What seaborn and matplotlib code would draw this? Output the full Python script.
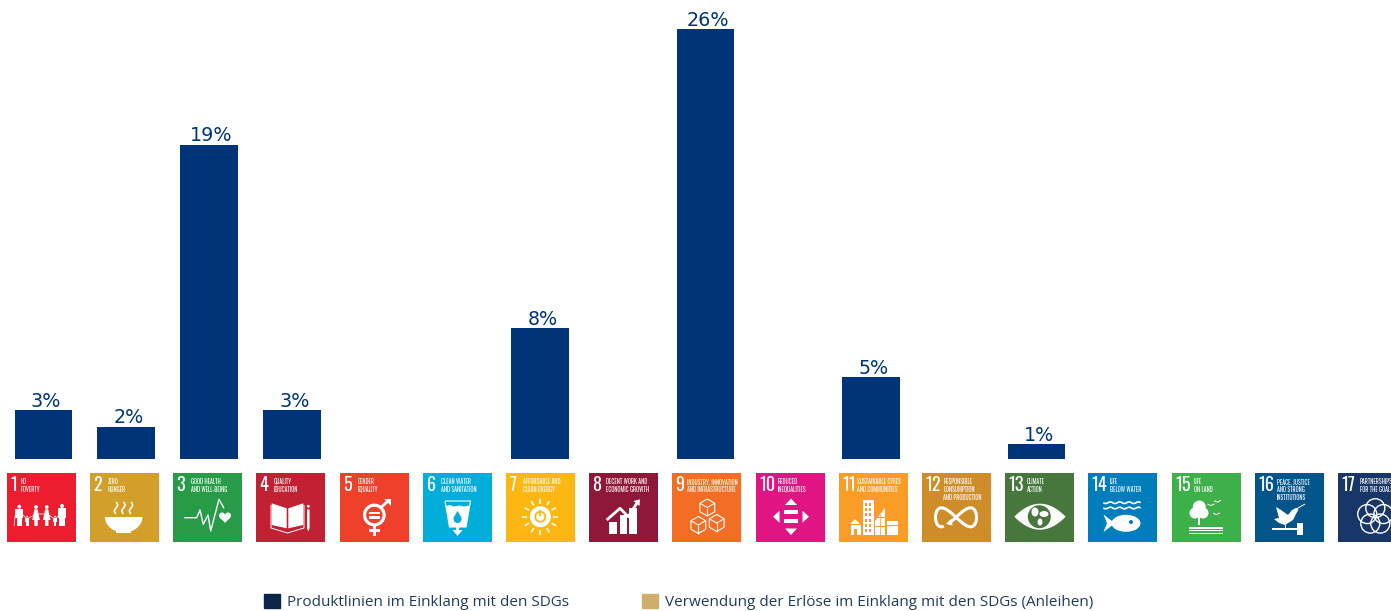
import numpy as np
import pandas as pd
import seaborn as sns
import matplotlib.pyplot as plt
from matplotlib import font_manager as fm
from matplotlib.patches import Patch, Polygon, Circle, Rectangle, Ellipse
from matplotlib.transforms import Affine2D

# Chart data
goals = list(range(1, 18))
shares = [2.96, 1.94, 19.0, 2.96, 0, 0, 7.92, 0, 26.0, 0, 4.96, 0, 0.91, 0, 0, 0, 0]
legend_labels = ['Produktlinien im Einklang mit den SDGs',
                 'Verwendung der Erlöse im Einklang mit den SDGs (Anleihen)']
tile_titles = ['NO\nPOVERTY', 'ZERO\nHUNGER', 'GOOD HEALTH\nAND WELL-BEING', 'QUALITY\nEDUCATION',
               'GENDER\nEQUALITY', 'CLEAN WATER\nAND SANITATION', 'AFFORDABLE AND\nCLEAN ENERGY',
               'DECENT WORK AND\nECONOMIC GROWTH', 'INDUSTRY, INNOVATION\nAND INFRASTRUCTURE',
               'REDUCED\nINEQUALITIES', 'SUSTAINABLE CITIES\nAND COMMUNITIES',
               'RESPONSIBLE\nCONSUMPTION\nAND PRODUCTION', 'CLIMATE\nACTION', 'LIFE\nBELOW WATER',
               'LIFE\nON LAND', 'PEACE, JUSTICE\nAND STRONG\nINSTITUTIONS', 'PARTNERSHIPS\nFOR THE GOALS']
tile_colors = ['#ED1C2E', '#D19F2A', '#279B48', '#C22033', '#EF402B', '#00AED9', '#FDB713', '#8F1838',
               '#F36E24', '#E01483', '#F99D26', '#CF8D2A', '#48773E', '#007DBB', '#3EB049', '#02558B', '#183668']
title_offsets = [13.7, 17.7, 17.7, 18, 17.7, 17.7, 16.7, 16.7, 14.7, 21.7, 18, 21.3, 21.7, 21.7, 21.7, 21.7, 21.7]

BAR_COLOR = '#003478'
W, H = 1391, 611
BAR_STEP = 82.75   # px between bars
PX_PER_PCT = 16.54
BASE_Y = 459

sns.set_theme(style='white')
plt.rcParams['font.family'] = ['Open Sans', 'DejaVu Sans']

df = pd.DataFrame({'goal': goals, 'share': shares})

fig = plt.figure(figsize=(W / 100, H / 100), dpi=100)
ax = fig.add_axes([0, 0, 1, 1])
sns.barplot(data=df, x='goal', y='share', order=goals, color=BAR_COLOR, saturation=1, width=0.695,
            linewidth=0, edgecolor='none', ax=ax)
ax.set_xlim(-43.5 / BAR_STEP, (W - 43.5) / BAR_STEP)
ax.set_ylim(-(H - BASE_Y) / PX_PER_PCT, BASE_Y / PX_PER_PCT)
ax.axis('off')

# Value labels above the bars, empty for goals without a share
bar_text = [f'{v:.0f}%' if v > 0 else '' for v in shares]
value_labels = ax.bar_label(ax.containers[0], labels=bar_text, padding=-0.4, color=BAR_COLOR, fontsize=13.8,
                            family='DejaVu Sans')
for t in value_labels:
    t.xyann = (1.8, t.xyann[1])

ax.legend(handles=[Patch(color='#0A2547'), Patch(color='#CFAE6B')], labels=legend_labels, ncol=2, frameon=False,
          loc='lower left', bbox_to_anchor=(264 / W, 0.002), fontsize=10.97, labelcolor='#1F3B5C',
          handlelength=1.05, handleheight=1.05, handletextpad=0.46, columnspacing=4.8, borderpad=0, borderaxespad=0)

# Pixel coordinate layer for the SDG tiles
lay = fig.add_axes([0, 0, 1, 1], facecolor='none')
lay.set_xlim(0, W)
lay.set_ylim(H, 0)
lay.axis('off')

W_ = 'white'


class Icon:
    # draws in coordinates local to one tile (0-69, y down)
    def __init__(self, x0, y0, bg):
        self.tr = Affine2D().translate(x0, y0) + lay.transData
        self.bg = bg

    def poly(self, pts, color=W_):
        lay.add_patch(Polygon(pts, closed=True, fc=color, ec='none', transform=self.tr))

    def rect(self, x, y, w, h, color=W_):
        lay.add_patch(Rectangle((x, y), w, h, fc=color, ec='none', transform=self.tr))

    def circ(self, x, y, r, color=W_):
        lay.add_patch(Circle((x, y), r, fc=color, ec='none', transform=self.tr))

    def ring(self, x, y, r, lw=1.5, color=W_):
        lay.add_patch(Circle((x, y), r, fc='none', ec=color, lw=lw, transform=self.tr))

    def line(self, xs, ys, lw=1.2, color=W_):
        lay.plot(xs, ys, color=color, lw=lw, transform=self.tr, solid_capstyle='butt')


def person(ic, x, head_y, bottom, dress=False):
    r = (bottom - head_y) * 0.1
    ic.circ(x, head_y, r)
    top = head_y + r + 0.4
    if dress:
        ic.poly([(x - 1.5, top), (x + 1.5, top), (x + 3.8, bottom - 6), (x + 1.7, bottom - 6), (x + 1.7, bottom),
                 (x - 1.7, bottom), (x - 1.7, bottom - 6), (x - 3.8, bottom - 6)])
    else:
        ic.rect(x - 2.1 * r, top, 4.2 * r, (bottom - top) * 0.55)
        ic.rect(x - 1.3 * r, top, 2.6 * r, bottom - top)


def icon1(ic):
    ic.line([8.5, 7], [40, 53], lw=0.5)
    person(ic, 12.3, 33.7, 53)
    person(ic, 20.3, 43.7, 53)
    person(ic, 29, 34, 53, dress=True)
    person(ic, 39.7, 34, 53, dress=True)
    person(ic, 48, 43.7, 53)
    person(ic, 55, 33, 53)
    ic.line([15, 20, 29, 40, 48, 53], [41, 46, 41, 41, 46, 41], lw=0.5)


def icon2(ic):
    t = np.linspace(0, np.pi, 40)
    ic.poly(np.column_stack([33.7 + 18.7 * np.cos(t), 44 + 15.5 * np.sin(t)]))
    ic.rect(26, 57, 15, 3.4)
    yy = np.linspace(29, 41, 30)
    for x in [26, 33.5, 41]:
        ic.line(x + 1.6 * np.sin((yy - 29) / 12 * 2 * np.pi), yy, lw=1.1)


def icon3(ic):
    ic.line([11.3, 23.7, 27, 30.3, 35, 37.7, 46, 51], [44.7, 44.7, 37, 51.3, 42, 58, 26.3, 35.3], lw=1)
    t = np.linspace(0, 2 * np.pi, 60)
    ic.poly(np.column_stack([52 + 0.38 * 16 * np.sin(t) ** 3,
                             44 - 0.38 * (13 * np.cos(t) - 5 * np.cos(2 * t) - 2 * np.cos(3 * t) - np.cos(4 * t))]))


def icon4(ic):
    ic.poly([(15.7, 30.3), (30.7, 35.3), (30.7, 55.3), (15.7, 52)])
    ic.poly([(32.3, 35.3), (47.3, 30.3), (47.3, 52), (32.3, 55.3)])
    ic.line([15, 15, 31.5, 48, 48], [32, 55, 60, 55, 32], lw=0.7)
    ic.circ(52.3, 33.3, 1.4)
    ic.poly([(51, 36.5), (53.6, 36.5), (53.6, 55), (52.3, 58.5), (51, 55)])


def icon5(ic):
    ic.ring(34.3, 42, 9.8, lw=2.3)
    ic.rect(28.5, 38.5, 11.6, 2.5)
    ic.rect(28.5, 43, 11.6, 2.5)
    ic.line([41, 49], [34.5, 27], lw=2)
    ic.poly([(43.5, 26), (50.7, 26), (50.7, 33.2)])
    ic.rect(33, 52, 2.6, 11)
    ic.rect(29, 56, 10.6, 2.6)


def icon6(ic):
    ic.line([22, 26.5, 43, 47.5, 22], [28, 54, 54, 28, 28], lw=0.8)
    ic.poly([(23, 33), (27, 32), (31, 33.5), (36, 32.5), (41, 33.5), (46.5, 32.5), (43, 54), (26.5, 54)])
    ic.circ(34.5, 46, 4, ic.bg)
    ic.poly([(34.5, 38), (31, 44), (38, 44)], ic.bg)
    ic.rect(33.2, 54, 2.6, 4)
    ic.poly([(29.5, 57), (39.5, 57), (34.5, 63)])


def icon7(ic):
    cx, cy = 34.3, 43.7
    for a in np.arange(0, 360, 30) + 0:
        c, s = np.cos(np.radians(a)), np.sin(np.radians(a))
        ic.line([cx + 13 * c, cx + 18 * c], [cy + 13 * s, cy + 18 * s], lw=1.1)
    ic.circ(cx, cy, 10.5)
    ic.ring(cx, cy, 5, lw=1.3, color=ic.bg)
    ic.line([cx, cx], [cy - 6.5, cy - 1], lw=1.3, color=ic.bg)


def icon8(ic):
    ic.rect(20, 48.7, 8.3, 12.3)
    ic.rect(31, 42, 7.3, 19)
    ic.rect(40.3, 35.3, 8, 25.7)
    ic.line([17.7, 31, 39.3, 48], [47, 35.3, 43.7, 30], lw=2)
    ic.poly([(44.5, 28), (51, 26.3), (50.5, 33)])


def cube(ic, x, y, s):
    dx, dy = s * 0.87, s * 0.5
    ic.line([x, x + dx, x + dx, x, x - dx, x - dx, x], [y - s, y - dy, y + dy, y + s, y + dy, y - dy, y - s], lw=0.8)
    ic.line([x - dx, x, x + dx], [y - dy, y, y - dy], lw=0.8)
    ic.line([x, x], [y, y + s], lw=0.8)


def icon9(ic):
    cube(ic, 35.3, 34.5, 8.5)
    cube(ic, 26.3, 52, 8.5)
    cube(ic, 44.7, 50, 8.5)


def icon10(ic):
    cx, cy = 35, 43.7
    ic.poly([(cx - 6, 32), (cx + 6, 32), (cx, 25.5)])
    ic.poly([(cx - 6, 55.5), (cx + 6, 55.5), (cx, 62)])
    ic.poly([(23.5, cy - 6), (23.5, cy + 6), (17, cy)])
    ic.poly([(46.5, cy - 6), (46.5, cy + 6), (53, cy)])
    ic.rect(cx - 7, 37, 14, 3.6)
    ic.rect(cx - 7, 46, 14, 3.6)


def icon11(ic):
    ic.poly([(11, 51), (16, 46), (21, 51)])
    ic.rect(11.5, 52, 10, 10)
    ic.rect(15, 56, 3, 6, ic.bg)
    ic.rect(24.3, 27, 10.5, 35)
    ic.poly([(36, 62), (36, 48), (46, 34.7), (46, 62)])
    ic.rect(47.7, 48, 11, 14)
    for i in range(6):
        for j in range(2):
            ic.rect(26 + j * 4, 30 + i * 5.2, 2.4, 3, ic.bg)
    for i in range(4):
        ic.rect(36, 44 + i * 4.5, 10, 0.7, ic.bg)
    ic.line([41, 41], [41, 62], lw=0.5, color=ic.bg)
    for i in range(2):
        ic.rect(47.7, 52 + i * 4.5, 11, 0.7, ic.bg)


def icon12(ic):
    t = np.linspace(2.2, 1.87 + 2 * np.pi - 0.05, 120)
    ic.line(34 + 20.5 * np.cos(t), 44.3 - 19 * np.sin(t) * np.cos(t), lw=2.2)
    ic.poly([(29.5, 45.5), (30.5, 52.5), (24, 51)])


def icon13(ic):
    x = np.linspace(9.3, 60.7, 50)
    half = 13 * (1 - ((x - 35) / 25.7) ** 2)
    ic.poly(np.concatenate([np.column_stack([x, 43.7 - half]), np.column_stack([x[::-1], 43.7 + half[::-1]])]))
    ic.circ(34.3, 43.7, 11.5, ic.bg)
    lay.add_patch(Ellipse((30, 39), 7, 9, fc=W_, ec='none', transform=ic.tr))
    lay.add_patch(Ellipse((39, 41), 9, 6, fc=W_, ec='none', transform=ic.tr))
    lay.add_patch(Ellipse((35, 49), 5, 7, fc=W_, ec='none', transform=ic.tr))


def icon14(ic):
    xx = np.linspace(15.3, 52.7, 50)
    for y in [29.7, 35]:
        ic.line(xx, y + 0.8 * np.sin((xx - 15.3) * 0.67), lw=1.2)
    lay.add_patch(Ellipse((38, 50.3), 29, 17, fc=W_, ec='none', transform=ic.tr))
    ic.poly([(15.5, 41.5), (27, 50.3), (15.5, 59), (19, 50.3)])
    ic.circ(43, 49, 2, ic.bg)


def icon15(ic):
    ic.circ(27.3, 34, 6.5)
    ic.circ(23, 40, 5.5)
    ic.circ(31, 40, 5.5)
    ic.rect(26.3, 44, 2, 8)
    for y, h in [(54.3, 1.2), (56.8, 1.2), (59.6, 1.4)]:
        ic.rect(17.3, y, 33.4, h)
    for bx, by in [(45.5, 28.5), (39, 32), (44.5, 41)]:
        ic.line([bx - 3.5, bx, bx + 3.5], [by - 0.8, by + 0.6, by - 1.2], lw=0.7)


def icon16(ic):
    ic.poly([(21, 34), (26, 37), (33, 42), (37, 37), (41, 35), (43.5, 36.5), (41, 41), (38, 47), (30, 52),
             (24, 50), (19, 46), (24, 45)])
    ic.line([39, 43, 50], [38, 35, 31], lw=0.7)
    ic.rect(17.3, 55.3, 26, 1.2)
    ic.rect(41.7, 50, 6.5, 12)
    ic.rect(30, 51, 1, 4)


def icon17(ic):
    cx, cy = 37.3, 43.7
    for a in [-90, -18, 54, 126, 198]:
        ic.ring(cx + 8.5 * np.cos(np.radians(a)), cy + 8.5 * np.sin(np.radians(a)), 9.5, lw=1)


icons = [icon1, icon2, icon3, icon4, icon5, icon6, icon7, icon8, icon9, icon10, icon11, icon12, icon13,
         icon14, icon15, icon16, icon17]

# condensed face for the tile captions, whichever is installed
installed = {f.name for f in fm.fontManager.ttflist}
narrow = next((n for n in ['Oswald', 'Barlow Condensed', 'Archivo Narrow', 'Liberation Sans Narrow'] if n in installed),
              'DejaVu Sans')
for i, goal in enumerate(goals):
    x0, y0 = round(6.8 + i * 83.2), 473
    lay.add_patch(Rectangle((x0, y0), 69, 69, fc=tile_colors[i], ec='none'))
    lay.text(x0 + 3.6, y0 + 12.3, str(goal), color='white', fontsize=13, fontweight='bold', family=narrow,
             va='center', ha='left')
    for j, part in enumerate(tile_titles[i].split('\n')):
        lay.text(x0 + title_offsets[i], y0 + 8.3 + j * 8.2, part, color='white', fontsize=4.2, fontweight='bold',
                 family=narrow, va='center', ha='left')
    icons[i](Icon(x0, y0, tile_colors[i]))

fig.savefig('out.png', dpi=100)
